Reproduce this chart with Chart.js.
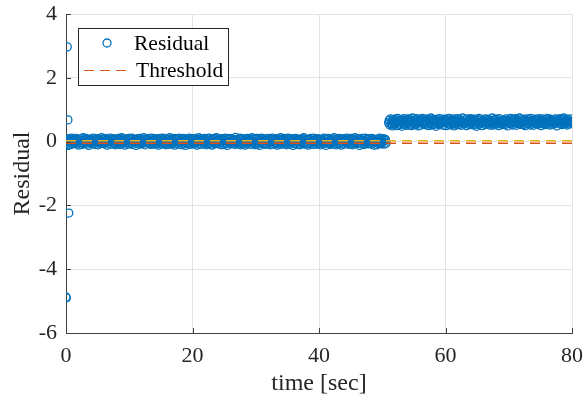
<!DOCTYPE html>
<html>
<head>
<meta charset="utf-8">
<script src="https://cdn.jsdelivr.net/npm/chart.js@4/dist/chart.umd.min.js"></script>
<style>
  html, body { margin: 0; padding: 0; background: #fff; }
  #wrap { width: 584px; height: 398px; }
</style>
</head>
<body>
<div id="wrap"><canvas id="myChart" width="584" height="398"></canvas></div>
<script>
// start-up transient right after t = 0
var startTime = [0.0, 0.2, 0.3, 0.35, 0.45, 0.05];
var startResidual = [-4.87, 2.97, 0.68, -0.12, -2.24, -4.9];

// before the fault (0 .. 50.6 s)
var time1 = [0,0.1,0.2,0.3,0.4,0.5,0.6,0.7,0.8,0.9, 1,1.1,1.2,1.3,1.4,1.5,1.6,1.7,1.8,1.9,
  2,2.1,2.2,2.3,2.4,2.5,2.6,2.7,2.8,2.9, 3,3.1,3.2,3.3,3.4,3.5,3.6,3.7,3.8,3.9,
  4,4.1,4.2,4.3,4.4,4.5,4.6,4.7,4.8,4.9, 5,5.1,5.2,5.3,5.4,5.5,5.6,5.7,5.8,5.9,
  6,6.1,6.2,6.3,6.4,6.5,6.6,6.7,6.8,6.9, 7,7.1,7.2,7.3,7.4,7.5,7.6,7.7,7.8,7.9,
  8,8.1,8.2,8.3,8.4,8.5,8.6,8.7,8.8,8.9, 9,9.1,9.2,9.3,9.4,9.5,9.6,9.7,9.8,9.9,
  10,10.1,10.2,10.3,10.4,10.5,10.6,10.7,10.8,10.9, 11,11.1,11.2,11.3,11.4,11.5,11.6,11.7,11.8,11.9,
  12,12.1,12.2,12.3,12.4,12.5,12.6,12.7,12.8,12.9, 13,13.1,13.2,13.3,13.4,13.5,13.6,13.7,13.8,13.9,
  14,14.1,14.2,14.3,14.4,14.5,14.6,14.7,14.8,14.9, 15,15.1,15.2,15.3,15.4,15.5,15.6,15.7,15.8,15.9,
  16,16.1,16.2,16.3,16.4,16.5,16.6,16.7,16.8,16.9, 17,17.1,17.2,17.3,17.4,17.5,17.6,17.7,17.8,17.9,
  18,18.1,18.2,18.3,18.4,18.5,18.6,18.7,18.8,18.9, 19,19.1,19.2,19.3,19.4,19.5,19.6,19.7,19.8,19.9,
  20,20.1,20.2,20.3,20.4,20.5,20.6,20.7,20.8,20.9, 21,21.1,21.2,21.3,21.4,21.5,21.6,21.7,21.8,21.9,
  22,22.1,22.2,22.3,22.4,22.5,22.6,22.7,22.8,22.9, 23,23.1,23.2,23.3,23.4,23.5,23.6,23.7,23.8,23.9,
  24,24.1,24.2,24.3,24.4,24.5,24.6,24.7,24.8,24.9, 25,25.1,25.2,25.3,25.4,25.5,25.6,25.7,25.8,25.9,
  26,26.1,26.2,26.3,26.4,26.5,26.6,26.7,26.8,26.9, 27,27.1,27.2,27.3,27.4,27.5,27.6,27.7,27.8,27.9,
  28,28.1,28.2,28.3,28.4,28.5,28.6,28.7,28.8,28.9, 29,29.1,29.2,29.3,29.4,29.5,29.6,29.7,29.8,29.9,
  30,30.1,30.2,30.3,30.4,30.5,30.6,30.7,30.8,30.9, 31,31.1,31.2,31.3,31.4,31.5,31.6,31.7,31.8,31.9,
  32,32.1,32.2,32.3,32.4,32.5,32.6,32.7,32.8,32.9, 33,33.1,33.2,33.3,33.4,33.5,33.6,33.7,33.8,33.9,
  34,34.1,34.2,34.3,34.4,34.5,34.6,34.7,34.8,34.9, 35,35.1,35.2,35.3,35.4,35.5,35.6,35.7,35.8,35.9,
  36,36.1,36.2,36.3,36.4,36.5,36.6,36.7,36.8,36.9, 37,37.1,37.2,37.3,37.4,37.5,37.6,37.7,37.8,37.9,
  38,38.1,38.2,38.3,38.4,38.5,38.6,38.7,38.8,38.9, 39,39.1,39.2,39.3,39.4,39.5,39.6,39.7,39.8,39.9,
  40,40.1,40.2,40.3,40.4,40.5,40.6,40.7,40.8,40.9, 41,41.1,41.2,41.3,41.4,41.5,41.6,41.7,41.8,41.9,
  42,42.1,42.2,42.3,42.4,42.5,42.6,42.7,42.8,42.9, 43,43.1,43.2,43.3,43.4,43.5,43.6,43.7,43.8,43.9,
  44,44.1,44.2,44.3,44.4,44.5,44.6,44.7,44.8,44.9, 45,45.1,45.2,45.3,45.4,45.5,45.6,45.7,45.8,45.9,
  46,46.1,46.2,46.3,46.4,46.5,46.6,46.7,46.8,46.9, 47,47.1,47.2,47.3,47.4,47.5,47.6,47.7,47.8,47.9,
  48,48.1,48.2,48.3,48.4,48.5,48.6,48.7,48.8,48.9, 49,49.1,49.2,49.3,49.4,49.5,49.6,49.7,49.8,49.9,
  50,50.1,50.2,50.3,50.4,50.5,50.6];
var residual1 = [0.03,-0.06,0.09,-0.01,0.05,-0.1,0.02,0.07,-0.04,0.11, -0.08,0.04,0.0,-0.05,0.08,-0.02,0.1,-0.07,0.01,0.06,
  -0.11,0.05,0.02,-0.03,0.09,-0.09,0.04,0.12,-0.06,0.0, 0.07,-0.04,0.1,-0.08,0.03,0.06,-0.12,0.01,0.08,-0.02,
  0.05,-0.07,0.02,0.11,-0.05,0.0,-0.09,0.07,0.04,-0.03, 0.09,-0.1,0.06,-0.01,0.03,-0.06,0.12,-0.04,0.02,0.08,
  -0.07,0.01,0.1,-0.03,0.05,-0.11,0.07,0.0,-0.05,0.04, 0.11,-0.08,0.03,0.06,-0.02,0.09,-0.06,0.02,-0.1,0.05,
  0.0,0.08,-0.04,0.1,-0.09,0.03,0.06,-0.07,0.12,-0.01, -0.05,0.04,0.09,-0.11,0.02,0.07,-0.03,0.05,-0.08,0.1,
  0.01,-0.06,0.08,-0.02,0.11,-0.09,0.04,0.0,0.06,-0.04, 0.07,-0.12,0.03,0.09,-0.05,0.02,-0.08,0.1,-0.01,0.05,
  -0.07,0.06,-0.03,0.12,0.0,-0.1,0.08,-0.04,0.03,0.07, -0.02,0.1,-0.06,0.04,-0.09,0.01,0.11,-0.05,0.06,-0.08,
  0.05,-0.01,0.09,-0.07,0.02,0.08,-0.11,0.03,-0.04,0.1, 0.0,-0.08,0.06,0.11,-0.03,0.04,-0.06,0.09,-0.1,0.02,
  0.07,-0.05,0.01,-0.09,0.12,-0.02,0.05,0.08,-0.07,0.03, -0.04,0.1,-0.11,0.06,0.0,0.09,-0.05,0.02,-0.08,0.11,
  0.04,-0.03,0.07,-0.1,0.05,-0.01,0.1,-0.06,0.03,-0.12, 0.08,0.01,-0.07,0.06,-0.04,0.11,-0.09,0.02,0.07,-0.02,
  -0.06,0.09,0.03,-0.08,0.1,-0.03,0.05,-0.11,0.0,0.06, 0.12,-0.05,0.02,0.08,-0.09,0.04,-0.01,0.07,-0.06,0.1,
  -0.03,0.05,-0.1,0.01,0.09,-0.07,0.11,-0.02,0.04,-0.08, 0.06,-0.11,0.08,0.0,-0.04,0.1,-0.06,0.03,0.12,-0.05,
  0.02,0.07,-0.08,0.05,-0.02,0.09,-0.1,0.04,-0.03,0.08, -0.09,0.03,0.11,-0.06,0.01,-0.12,0.06,0.09,-0.04,0.0,
  0.1,-0.07,0.04,-0.01,0.08,-0.05,0.02,-0.09,0.13,-0.03, 0.05,0.0,-0.08,0.07,-0.04,0.11,-0.1,0.06,0.01,-0.06,
  0.09,-0.02,0.04,-0.11,0.07,0.02,-0.07,0.1,-0.05,0.03, -0.01,0.08,-0.09,0.05,0.12,-0.04,0.0,-0.06,0.09,-0.1,
  0.06,-0.03,0.1,-0.08,0.02,0.07,-0.12,0.04,-0.02,0.11, -0.06,0.01,0.08,-0.04,0.05,-0.09,0.03,0.09,-0.07,0.0,
  0.1,-0.05,0.03,-0.1,0.07,-0.01,0.11,-0.08,0.04,0.06, -0.03,0.09,-0.06,0.02,-0.11,0.08,0.0,0.05,-0.04,0.12,
  -0.09,0.04,0.07,-0.02,0.1,-0.07,0.01,-0.05,0.08,-0.1, 0.03,0.11,-0.04,0.06,-0.08,0.0,0.09,-0.03,0.05,-0.12,
  0.07,-0.06,0.02,0.1,-0.01,-0.09,0.05,0.08,-0.05,0.03, -0.1,0.06,-0.02,0.09,0.04,-0.07,0.12,-0.03,0.01,-0.08,
  0.08,-0.04,0.05,-0.11,0.03,0.07,-0.06,0.1,0.0,-0.02, 0.04,-0.09,0.11,-0.05,0.06,0.01,-0.08,0.03,0.09,-0.06,
  -0.02,0.07,-0.1,0.04,0.08,-0.03,0.02,-0.07,0.11,0.0, 0.06,-0.12,0.09,-0.04,0.01,0.1,-0.06,0.05,-0.09,0.03,
  -0.05,0.08,0.0,-0.08,0.12,-0.02,0.06,-0.1,0.04,0.07, 0.02,-0.07,0.1,-0.03,0.05,-0.11,0.08,0.01,-0.04,0.09,
  -0.08,0.03,0.06,-0.01,0.11,-0.06,0.0,0.07,-0.09,0.05, 0.1,-0.04,0.02,-0.1,0.08,0.04,-0.07,0.12,-0.02,0.01,
  -0.06,0.09,-0.03,0.05,-0.12,0.07,0.03,-0.05,0.1,-0.08, 0.04,0.0,-0.09,0.11,-0.04,0.06,-0.01,0.08,-0.07,0.02,
  0.09,-0.05,0.03,-0.08,0.1,-0.02,0.05,-0.11,0.07,0.01, -0.03,0.06,-0.1,0.08,0.0,-0.06,0.11,-0.04,0.03,-0.07,
  0.05,-0.02,0.09,-0.08,0.04,0.07,-0.05];

// after the fault (51 .. 80 s)
var time2 = [51,51.1,51.2,51.3,51.4,51.5,51.6,51.7,51.8,51.9, 52,52.1,52.2,52.3,52.4,52.5,52.6,52.7,52.8,52.9,
  53,53.1,53.2,53.3,53.4,53.5,53.6,53.7,53.8,53.9, 54,54.1,54.2,54.3,54.4,54.5,54.6,54.7,54.8,54.9,
  55,55.1,55.2,55.3,55.4,55.5,55.6,55.7,55.8,55.9, 56,56.1,56.2,56.3,56.4,56.5,56.6,56.7,56.8,56.9,
  57,57.1,57.2,57.3,57.4,57.5,57.6,57.7,57.8,57.9, 58,58.1,58.2,58.3,58.4,58.5,58.6,58.7,58.8,58.9,
  59,59.1,59.2,59.3,59.4,59.5,59.6,59.7,59.8,59.9, 60,60.1,60.2,60.3,60.4,60.5,60.6,60.7,60.8,60.9,
  61,61.1,61.2,61.3,61.4,61.5,61.6,61.7,61.8,61.9, 62,62.1,62.2,62.3,62.4,62.5,62.6,62.7,62.8,62.9,
  63,63.1,63.2,63.3,63.4,63.5,63.6,63.7,63.8,63.9, 64,64.1,64.2,64.3,64.4,64.5,64.6,64.7,64.8,64.9,
  65,65.1,65.2,65.3,65.4,65.5,65.6,65.7,65.8,65.9, 66,66.1,66.2,66.3,66.4,66.5,66.6,66.7,66.8,66.9,
  67,67.1,67.2,67.3,67.4,67.5,67.6,67.7,67.8,67.9, 68,68.1,68.2,68.3,68.4,68.5,68.6,68.7,68.8,68.9,
  69,69.1,69.2,69.3,69.4,69.5,69.6,69.7,69.8,69.9, 70,70.1,70.2,70.3,70.4,70.5,70.6,70.7,70.8,70.9,
  71,71.1,71.2,71.3,71.4,71.5,71.6,71.7,71.8,71.9, 72,72.1,72.2,72.3,72.4,72.5,72.6,72.7,72.8,72.9,
  73,73.1,73.2,73.3,73.4,73.5,73.6,73.7,73.8,73.9, 74,74.1,74.2,74.3,74.4,74.5,74.6,74.7,74.8,74.9,
  75,75.1,75.2,75.3,75.4,75.5,75.6,75.7,75.8,75.9, 76,76.1,76.2,76.3,76.4,76.5,76.6,76.7,76.8,76.9,
  77,77.1,77.2,77.3,77.4,77.5,77.6,77.7,77.8,77.9, 78,78.1,78.2,78.3,78.4,78.5,78.6,78.7,78.8,78.9,
  79,79.1,79.2,79.3,79.4,79.5,79.6,79.7,79.8,79.9, 80];
var residual2 = [0.59,0.67,0.52,0.71,0.56,0.63,0.49,0.68,0.6,0.54, 0.7,0.57,0.64,0.5,0.73,0.61,0.55,0.66,0.53,0.69,
  0.62,0.48,0.67,0.58,0.72,0.54,0.65,0.6,0.51,0.7, 0.56,0.64,0.71,0.52,0.6,0.68,0.5,0.63,0.74,0.57,
  0.66,0.53,0.61,0.69,0.55,0.72,0.58,0.49,0.65,0.62, 0.51,0.7,0.59,0.64,0.73,0.56,0.67,0.53,0.6,0.68,
  0.63,0.55,0.71,0.5,0.66,0.61,0.57,0.74,0.52,0.65, 0.69,0.58,0.54,0.67,0.62,0.48,0.7,0.6,0.64,0.56,
  0.53,0.72,0.61,0.57,0.68,0.65,0.51,0.63,0.7,0.59, 0.66,0.5,0.69,0.62,0.55,0.73,0.58,0.64,0.52,0.67,
  0.6,0.71,0.56,0.65,0.49,0.68,0.63,0.54,0.72,0.58, 0.64,0.53,0.7,0.59,0.66,0.51,0.62,0.74,0.57,0.61,
  0.55,0.68,0.6,0.5,0.71,0.64,0.58,0.67,0.53,0.69, 0.72,0.57,0.63,0.66,0.52,0.6,0.7,0.55,0.65,0.48,
  0.62,0.69,0.54,0.73,0.59,0.56,0.67,0.61,0.5,0.64, 0.58,0.65,0.71,0.53,0.68,0.62,0.57,0.7,0.6,0.55,
  0.67,0.51,0.63,0.6,0.74,0.58,0.52,0.66,0.69,0.56, 0.61,0.7,0.55,0.64,0.5,0.72,0.62,0.57,0.65,0.59,
  0.53,0.66,0.68,0.58,0.63,0.54,0.71,0.6,0.49,0.67, 0.64,0.57,0.6,0.73,0.55,0.69,0.52,0.65,0.62,0.7,
  0.59,0.72,0.51,0.63,0.67,0.56,0.61,0.74,0.58,0.54, 0.68,0.6,0.65,0.53,0.7,0.62,0.5,0.66,0.57,0.71,
  0.55,0.64,0.69,0.6,0.52,0.73,0.58,0.63,0.67,0.51, 0.62,0.57,0.7,0.65,0.59,0.54,0.68,0.61,0.72,0.56,
  0.66,0.5,0.63,0.71,0.57,0.64,0.6,0.53,0.69,0.62, 0.58,0.73,0.55,0.61,0.67,0.52,0.7,0.64,0.59,0.65,
  0.54,0.62,0.68,0.57,0.71,0.6,0.49,0.66,0.63,0.7, 0.61,0.56,0.72,0.64,0.53,0.69,0.58,0.74,0.6,0.57,
  0.67,0.63,0.52,0.7,0.59,0.65,0.55,0.62,0.71,0.6, 0.64];

var thresholdTime = [0, 80];
var lowerThreshold = [-0.05, -0.05];
var upperThreshold = [0.03, 0.03];

var xTicks = [0, 20, 40, 60, 80];
var yTicks = [-6, -4, -2, 0, 2, 4];

function toPoints(xs, ys) {
  var pts = [];
  for (var i = 0; i < xs.length; i++) pts.push({ x: xs[i], y: ys[i] });
  return pts;
}

var residualPts = toPoints(startTime, startResidual)
  .concat(toPoints(time1, residual1))
  .concat(toPoints(time2, residual2));

Chart.defaults.font.family = "'Liberation Serif', 'Times New Roman', serif";
Chart.defaults.color = "#262626";

// matlab style inward ticks + legend box inside the axes
var matlabBits = {
  id: "matlabBits",
  afterDraw: function (chart) {
    var ctx = chart.ctx;
    var a = chart.chartArea;
    var xs = chart.scales.x, ys = chart.scales.y;
    ctx.save();
    ctx.strokeStyle = "#404040";
    ctx.lineWidth = 1;
    ctx.beginPath();
    yTicks.forEach(function (v) {
      var py = Math.round(ys.getPixelForValue(v)) + 0.5;
      ctx.moveTo(a.left, py);
      ctx.lineTo(a.left + 5, py);
    });
    xTicks.forEach(function (v) {
      var px = Math.round(xs.getPixelForValue(v)) + 0.5;
      ctx.moveTo(px, a.bottom);
      ctx.lineTo(px, a.bottom - 5);
    });
    ctx.stroke();

    // legend
    var lx = a.left + 12, ly = a.top + 14, lw = 150, lh = 57;
    ctx.fillStyle = "#fff";
    ctx.fillRect(lx, ly, lw, lh);
    ctx.strokeStyle = "#262626";
    ctx.strokeRect(lx + 0.5, ly + 0.5, lw, lh);

    ctx.strokeStyle = "#0072BD";
    ctx.lineWidth = 1.3;
    ctx.beginPath();
    ctx.arc(lx + 29, ly + 15, 4, 0, Math.PI * 2);
    ctx.stroke();

    ctx.strokeStyle = "#D95319";
    ctx.lineWidth = 1;
    ctx.setLineDash([10, 6]);
    ctx.beginPath();
    ctx.moveTo(lx + 6, ly + 42.5);
    ctx.lineTo(lx + 53, ly + 42.5);
    ctx.stroke();
    ctx.setLineDash([]);

    ctx.fillStyle = "#000";
    ctx.font = "21.5px 'Liberation Serif'";
    ctx.textBaseline = "middle";
    ctx.fillText("Residual", lx + 56, ly + 16);
    ctx.fillText("Threshold", lx + 58, ly + 43);
    ctx.restore();
  }
};

new Chart(document.getElementById("myChart").getContext("2d"), {
  type: "scatter",
  data: {
    datasets: [
      {
        label: "Residual",
        data: residualPts,
        pointStyle: "circle",
        pointRadius: 4,
        pointBorderWidth: 1.3,
        borderColor: "#0072BD",
        backgroundColor: "rgba(0,0,0,0)",
        order: 3
      },
      {
        label: "Threshold",
        data: toPoints(thresholdTime, lowerThreshold),
        showLine: true,
        pointRadius: 0,
        borderColor: "#D95319",
        borderWidth: 1.5,
        borderDash: [10, 6],
        order: 2
      },
      {
        label: "Threshold (upper)",
        data: toPoints(thresholdTime, upperThreshold),
        showLine: true,
        pointRadius: 0,
        borderColor: "#EDB120",
        borderWidth: 1.5,
        borderDash: [10, 6],
        order: 1
      }
    ]
  },
  options: {
    responsive: false,
    animation: false,
    layout: { padding: { top: 14, right: 12, left: 0, bottom: 0 } },
    plugins: { legend: { display: false }, tooltip: { enabled: false } },
    scales: {
      x: {
        type: "linear",
        min: 0,
        max: 80,
        afterBuildTicks: function (s) { s.ticks = xTicks.map(function (v) { return { value: v }; }); },
        afterFit: function (s) { s.height = 65; s.paddingLeft = 0; s.paddingRight = 0; },
        grid: { color: "#e3e3e3", drawTicks: false },
        border: { color: "#404040", width: 1 },
        ticks: { padding: 10, font: { size: 22 }, color: "#262626" },
        title: { display: true, text: "time [sec]", font: { size: 24 }, color: "#262626", padding: { top: 0, bottom: 0 } }
      },
      y: {
        type: "linear",
        min: -6,
        max: 4,
        afterBuildTicks: function (s) { s.ticks = yTicks.map(function (v) { return { value: v }; }); },
        afterFit: function (s) { s.width = 66; s.paddingTop = 0; s.paddingBottom = 0; },
        grid: { color: "#e3e3e3", drawTicks: false },
        border: { color: "#404040", width: 1 },
        ticks: { padding: 9, font: { size: 22 }, color: "#262626" },
        title: { display: true, text: "Residual", font: { size: 24 }, color: "#262626", padding: { top: 8, bottom: 0 } }
      }
    }
  },
  plugins: [matlabBits]
});
</script>
</body>
</html>
